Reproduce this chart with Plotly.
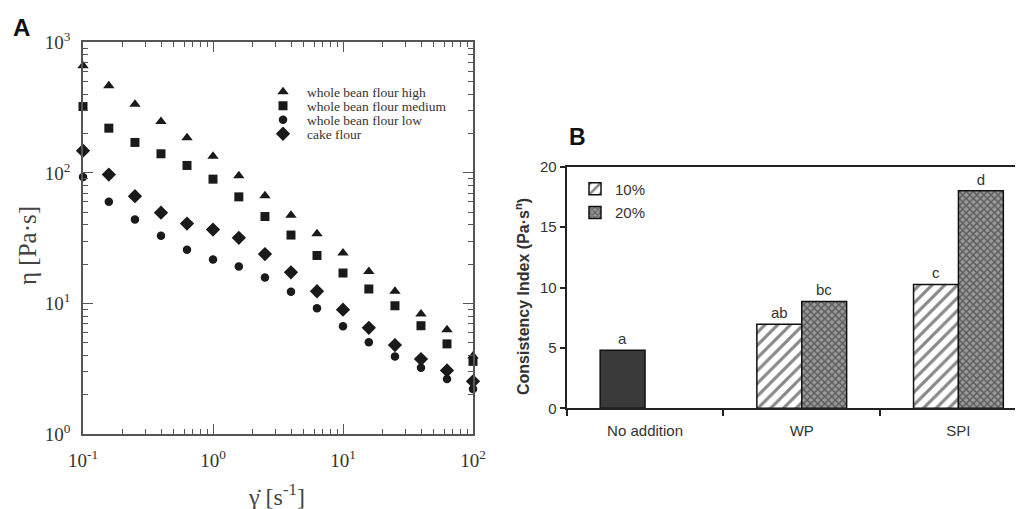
import plotly.graph_objects as go

# ---------------- Panel A data ----------------
shear_rate = [0.1, 0.158, 0.251, 0.398, 0.631, 1.0, 1.58, 2.51, 3.98, 6.31,
              10.0, 15.8, 25.1, 39.8, 63.1, 100.0]
visc_high = [662, 464, 335, 247, 186, 134, 95, 66.7, 47.4, 34.1,
             24.3, 17.6, 12.4, 8.3, 6.3, 3.95]
visc_medium = [322, 220, 171, 140, 114, 89.5, 65.5, 46.3, 33.4, 23.3,
               17.1, 12.9, 9.6, 6.75, 4.9, 3.6]
visc_low = [93, 60, 44, 33, 25.8, 21.7, 19.2, 15.8, 12.3, 9.2,
            6.7, 5.05, 3.93, 3.22, 2.64, 2.21]
visc_cake = [148, 97, 66.3, 49.6, 40.9, 36.8, 31.8, 23.9, 17.3, 12.4,
             8.95, 6.5, 4.8, 3.75, 3.07, 2.53]
series_a_names = ["whole bean flour high", "whole bean flour medium",
                  "whole bean flour low", "cake flour"]

x_tick_vals = [0.1, 1, 10, 100]
x_tick_text = ["10<sup>-1</sup>", "10<sup>0</sup>", "10<sup>1</sup>", "10<sup>2</sup>"]
y_tick_vals = [1, 10, 100, 1000]
y_tick_text = ["10<sup>0</sup>", "10<sup>1</sup>", "10<sup>2</sup>", "10<sup>3</sup>"]

# ---------------- Panel B data ----------------
categories = ["No addition", "WP", "SPI"]
control_value = [4.8]
control_label = ["a"]
wp_spi = ["WP", "SPI"]
values_10 = [6.95, 10.25]
labels_10 = ["ab", "c"]
values_20 = [8.85, 18.0]
labels_20 = ["bc", "d"]
b_tick_vals = [0, 5, 10, 15, 20]

SERIF = "Liberation Serif"
SANS = "Liberation Sans"
INK = "#1a1a1a"
PAGE_OFF = 8            # default body margin of the html page
W, H = 1023 - PAGE_OFF, 509 - PAGE_OFF


def px(xp):
    return (xp - PAGE_OFF) / W


def py(yp):
    return 1 - (yp - PAGE_OFF) / H


fig = go.Figure()

symbols = ["triangle-up", "square", "circle", "diamond"]
sizes = [10, 9, 8.5, 11]
a_legends = ["legend", "legend3", "legend4", "legend5"]
for name, vals, sym, sz, lg in zip(series_a_names,
                                   [visc_high, visc_medium, visc_low, visc_cake],
                                   symbols, sizes, a_legends):
    fig.add_trace(go.Scatter(
        x=shear_rate, y=vals, mode="markers", name=name,
        marker=dict(symbol=sym, size=sz, color=INK, line=dict(width=0)),
        cliponaxis=False, xaxis="x", yaxis="y", legend=lg))

# Panel B bars
bar_font = dict(family=SANS, size=15, color="#333")
fig.add_trace(go.Bar(
    x=["No addition"], y=control_value, text=control_label,
    textposition="outside", offsetgroup="p10", showlegend=False,
    marker=dict(color="#3a3a3a", line=dict(color="#111", width=1.5)),
    textfont=bar_font, cliponaxis=False,
    xaxis="x2", yaxis="y2", legend="legend2"))
fig.add_trace(go.Bar(
    x=wp_spi, y=values_10, text=labels_10, name="10%",
    textposition="outside", offsetgroup="p10",
    marker=dict(color="white", line=dict(color="#111", width=1.5),
                pattern=dict(shape="/", fgcolor="#111", bgcolor="white",
                             size=9, solidity=0.35)),
    textfont=bar_font, cliponaxis=False,
    xaxis="x2", yaxis="y2", legend="legend2"))
fig.add_trace(go.Bar(
    x=wp_spi, y=values_20, text=labels_20, name="20%",
    textposition="outside", offsetgroup="p20",
    marker=dict(color="#999999", line=dict(color="#111", width=1.5),
                pattern=dict(shape="x", fgcolor="#222", bgcolor="#9a9a9a",
                             size=5, solidity=0.5)),
    textfont=bar_font, cliponaxis=False,
    xaxis="x2", yaxis="y2", legend="legend6"))

minor_vals = [m * 10 ** e for e in range(-1, 3) for m in range(2, 10)]

axis_a_common = dict(
    type="log", showline=True, linecolor="#555", linewidth=1.5,
    mirror="allticks", ticks="inside", ticklen=10, tickwidth=1.2,
    tickcolor="#555", showgrid=False, zeroline=False, automargin=False,
    tickfont=dict(family=SERIF, size=19, color="#333"),
    minor=dict(tickvals=minor_vals, ticks="inside", ticklen=5,
               tickwidth=1.2, tickcolor="#555", showgrid=False),
)

legend_a_common = dict(xanchor="left", yanchor="middle", bgcolor="rgba(0,0,0,0)",
                       itemwidth=38, borderwidth=0,
                       font=dict(family=SERIF, size=13.5, color="#333"))
legend_b_common = dict(xanchor="left", yanchor="middle", bgcolor="rgba(0,0,0,0)",
                       borderwidth=0, font=dict(family=SANS, size=15, color="#333"))

ann_common = dict(xref="paper", yref="paper", showarrow=False,
                  xanchor="center", yanchor="middle")

fig.update_layout(
    width=W, height=H,
    margin=dict(l=0, r=0, t=0, b=0),
    paper_bgcolor="white", plot_bgcolor="white",
    barmode="group", bargap=0.427, bargroupgap=0,
    xaxis=dict(domain=[px(83), px(473)], range=[-1, 2], anchor="y",
               tickvals=x_tick_vals, ticktext=x_tick_text, ticklabelstandoff=8,
               **axis_a_common),
    yaxis=dict(domain=[py(434), py(42.3)], range=[0, 3], anchor="x",
               tickvals=y_tick_vals, ticktext=y_tick_text, ticklabelstandoff=7,
               **axis_a_common),
    xaxis2=dict(domain=[px(566.7), 1.0], range=[-0.5, 2.412], anchor="y2",
                type="category", categoryorder="array", categoryarray=categories,
                showline=True, linecolor="#222", linewidth=2, mirror=True,
                ticks="outside", tickson="boundaries", ticklen=6, tickwidth=1.5,
                tickcolor="#222", showgrid=False, zeroline=False, automargin=False,
                ticklabelstandoff=8,
                tickfont=dict(family=SANS, size=15, color="#333")),
    yaxis2=dict(domain=[py(408.3), py(166.7)], range=[0, 20], anchor="x2",
                tickvals=b_tick_vals, showline=True, linecolor="#222",
                linewidth=2, ticks="outside", ticklen=5, tickwidth=1.5,
                tickcolor="#222", showgrid=False, zeroline=False, automargin=False,
                tickfont=dict(family=SANS, size=15, color="#333")),
    legend=dict(x=px(259), y=py(92), **legend_a_common),
    legend3=dict(x=px(259), y=py(106), **legend_a_common),
    legend4=dict(x=px(259), y=py(120), **legend_a_common),
    legend5=dict(x=px(259), y=py(134), **legend_a_common),
    legend2=dict(x=px(575), y=py(189), **legend_b_common),
    legend6=dict(x=px(575), y=py(212.7), **legend_b_common),
    showlegend=True,
    annotations=[
        dict(text="<b>A</b>", x=px(21), y=py(27),
             font=dict(family=SANS, size=24, color="#111"), **ann_common),
        dict(text="<b>B</b>", x=px(577), y=py(137),
             font=dict(family=SANS, size=23, color="#111"), **ann_common),
        dict(text="η [Pa·s]", x=px(27), y=py(246), textangle=-90,
             font=dict(family=SERIF, size=25, color="#444"), **ann_common),
        dict(text="γ\u0307 [s<sup>-1</sup>]", x=px(276), y=py(495),
             font=dict(family=SERIF, size=24, color="#444"), **ann_common),
        dict(text="<b>Consistency Index (Pa·s<sup>n</sup>)</b>", x=px(522),
             y=py(297), textangle=-90,
             font=dict(family=SANS, size=16, color="#333"), **ann_common),
    ],
)

fig.write_html("out.html")
